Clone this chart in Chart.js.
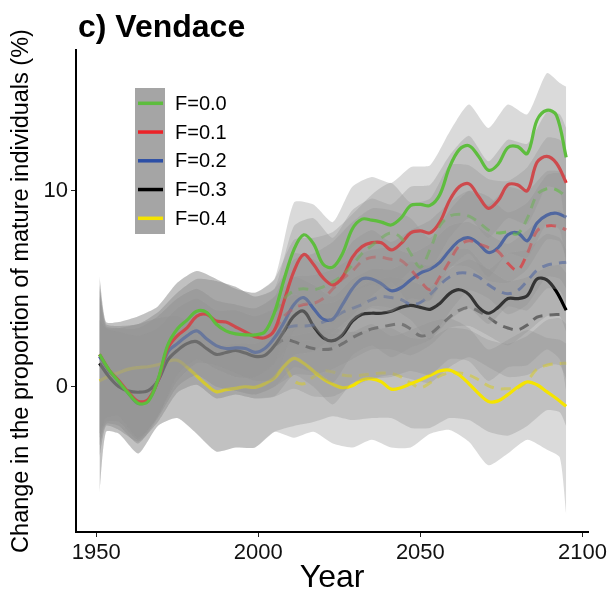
<!DOCTYPE html>
<html>
<head>
<meta charset="utf-8">
<script src="https://cdn.jsdelivr.net/npm/chart.js@4.4.1/dist/chart.umd.min.js"></script>
<style>
  html, body { margin: 0; padding: 0; background: #fff; }
  canvas { display: block; }
</style>
</head>
<body>
<canvas id="chart" width="610" height="603"></canvas>
<script>
// years for the solid lines, the dashed lines and the ribbons
const years = [1951,1954,1957,1960,1963,1966,1969,1972,1975,1978,1981,1984,1987,1990,1993,1996,1999,2002,2005,2008,2011,2014,2017,2020,2023,2026,2029,2032,2035,2038,2041,2044,2047,2050,2053,2056,2059,2062,2065,2068,2071,2074,2077,2080,2083,2086,2089,2092,2095];
const dashYears = [2005,2008,2011,2014,2017,2020,2023,2026,2029,2032,2035,2038,2041,2044,2047,2050,2053,2056,2059,2062,2065,2068,2071,2074,2077,2080,2083,2086,2089,2092,2095];
const ribbonYears = [1951,1953,1957,1963,1969,1975,1981,1987,1993,1999,2005,2011,2017,2023,2029,2035,2041,2047,2053,2059,2065,2071,2077,2083,2089,2093,2095];
const dashRibbonYears = [2005,2011,2017,2023,2029,2035,2041,2047,2053,2059,2065,2071,2077,2083,2089,2093,2095];

const labels = ['F=0.0', 'F=0.1', 'F=0.2', 'F=0.3', 'F=0.4'];
const lineColors = ['#5ebd3e', '#ec2227', '#2c4fa6', '#000000', '#f5e400'];

// solid lines
const f00 = [1.65,0.85,0.25,-0.35,-0.85,-0.75,0.35,2.1,2.95,3.4,3.85,3.8,3.2,2.85,2.7,2.65,2.65,2.8,3.8,5.5,7.0,7.75,7.3,6.25,6.1,6.8,8.05,8.55,8.5,8.4,8.25,8.6,9.25,9.3,9.25,9.8,11.2,12.1,12.3,11.75,11.05,11.35,12.2,12.25,11.9,13.6,14.1,13.85,11.7];
const f01 = [1.65,0.85,0.3,-0.3,-0.75,-0.65,0.3,1.95,2.6,3.0,3.6,3.7,3.35,3.3,3.05,2.8,2.55,2.5,2.9,4.4,5.9,6.75,6.25,5.55,5.2,5.6,6.6,7.15,7.35,7.35,6.98,7.3,7.85,7.95,7.85,8.4,9.5,10.2,10.35,9.7,9.1,9.5,10.3,10.3,10.0,11.45,11.75,11.4,10.4];
const f02 = [1.55,0.8,0.25,-0.35,-0.85,-0.7,0.3,1.75,2.2,2.6,2.85,2.45,2.1,1.95,1.98,1.95,1.75,1.95,2.5,3.3,4.2,4.55,4.0,3.45,3.45,4.2,5.0,5.5,5.5,5.25,4.9,5.05,5.45,5.8,6.0,6.35,6.95,7.45,7.6,7.3,6.85,7.1,7.75,7.85,7.45,8.35,8.75,8.85,8.65];
const f03 = [1.2,0.5,0.0,-0.22,-0.28,-0.2,0.3,1.35,1.85,2.2,2.3,1.95,1.65,1.75,1.85,1.72,1.55,1.6,2.1,2.85,3.6,3.85,3.1,2.5,2.35,2.65,3.35,3.7,3.75,3.75,3.85,4.05,4.15,4.05,3.95,4.25,4.75,4.95,4.7,4.05,3.75,4.05,4.5,4.5,4.65,5.5,5.45,4.85,3.9];
const f04 = [0.3,0.55,0.72,0.9,0.98,1.02,1.12,1.3,1.35,1.0,0.55,0.1,-0.25,-0.15,-0.08,0.0,-0.03,0.15,0.45,1.05,1.45,1.2,0.8,0.4,0.12,-0.05,0.05,0.35,0.4,0.25,-0.12,-0.05,0.15,0.35,0.58,0.8,0.85,0.6,0.15,-0.35,-0.75,-0.72,-0.4,-0.02,0.25,0.1,-0.25,-0.6,-1.0];

// dashed lines
const f00d = [3.8,4.5,4.9,5.0,4.95,5.1,5.35,5.7,6.2,6.8,7.2,7.6,7.85,7.6,6.8,6.1,7.0,8.2,8.7,8.8,8.7,8.4,8.0,7.85,7.9,7.8,8.6,9.8,10.1,10.05,9.7];
const f01d = [2.9,3.6,4.0,4.2,4.25,4.5,5.0,5.5,5.9,6.4,6.6,6.6,6.5,6.45,6.0,5.4,4.95,5.6,6.4,7.2,7.45,7.3,7.1,6.9,6.3,5.95,6.8,7.95,8.2,8.2,8.0];
const f02d = [2.5,2.95,3.1,3.1,3.15,3.3,3.5,3.8,4.0,4.2,4.45,4.6,4.55,4.45,4.2,4.3,4.7,5.2,5.6,5.8,5.78,5.6,5.2,4.9,4.75,4.9,5.4,5.95,6.2,6.3,6.35];
const f03d = [2.1,2.4,2.3,2.1,1.95,1.9,1.95,2.2,2.5,2.75,2.95,3.05,3.15,3.2,2.95,2.6,2.7,3.1,3.55,3.9,4.05,3.85,3.55,3.2,3.0,2.9,3.15,3.55,3.65,3.68,3.7];
const f04d = [0.45,1.0,0.3,0.15,0.5,0.8,0.75,0.6,0.55,0.6,0.65,0.7,0.68,0.5,0.2,-0.05,0.2,0.55,0.7,0.7,0.6,0.35,0.05,-0.1,-0.1,-0.08,0.3,0.9,1.1,1.18,1.2];

// ribbon bounds around the solid lines
const f00hi = [5.6,3.3,3.3,3.6,4.1,5.3,5.9,5.5,5.0,4.8,5.5,9.4,9.3,8.4,10.2,10.7,10.4,11.2,11.3,13.0,14.4,13.2,14.4,13.9,16.0,15.5,15.3];
const f00lo = [-2.4,-1.6,-1.5,-2.6,-1.5,0.6,1.4,0.9,0.5,0.5,1.2,4.0,4.2,3.2,4.8,5.2,5.0,5.9,6.0,7.6,8.6,7.6,8.6,8.3,10.2,10.0,7.6];
const f01hi = [5.2,3.2,3.1,3.2,3.8,4.8,5.5,5.4,5.1,4.6,5.0,8.2,8.6,7.6,9.0,9.6,9.3,10.2,10.3,11.8,12.8,11.5,12.6,12.4,14.0,13.9,13.2];
const f01lo = [-2.6,-1.8,-1.8,-2.7,-1.5,0.3,1.2,1.1,0.7,0.3,0.4,2.9,3.0,2.0,3.3,4.0,3.8,4.5,4.4,6.0,6.8,5.6,6.8,6.6,8.3,8.0,6.2];
const f02hi = [5.0,3.1,3.0,3.0,3.6,4.5,5.0,4.4,4.2,4.0,4.6,6.8,6.5,6.0,7.4,8.0,7.4,8.0,8.5,9.4,10.0,9.3,10.2,10.0,11.0,11.0,10.8];
const f02lo = [-3.0,-1.9,-2.0,-2.9,-1.6,0.0,0.6,0.0,-0.2,-0.4,0.0,1.0,0.7,0.2,1.6,2.1,1.5,2.0,2.4,3.4,4.0,3.2,4.1,3.9,5.0,4.9,4.2];
const f03hi = [4.6,3.0,2.8,2.6,3.0,4.0,4.5,3.9,3.9,3.6,4.0,5.6,5.2,4.6,5.5,6.0,6.0,6.4,6.2,7.0,7.0,6.0,6.8,7.0,7.8,7.6,7.0];
const f03lo = [-3.6,-2.0,-2.2,-2.8,-1.8,-0.3,0.1,-0.6,-0.4,-0.6,-0.5,0.6,0.0,-0.9,0.2,0.4,0.5,0.8,0.6,1.4,1.3,0.3,1.0,1.1,1.9,1.4,-0.2];
const f04hi = [3.4,3.0,3.0,3.2,3.5,3.6,3.0,2.1,2.2,2.2,2.6,3.8,3.2,2.7,2.8,3.2,2.6,2.9,3.3,3.5,3.0,1.9,2.4,2.9,2.5,2.4,2.2];
const f04lo = [-5.4,-2.3,-2.4,-3.4,-2.0,-1.6,-2.4,-3.3,-3.1,-3.1,-2.3,-2.6,-2.3,-2.9,-3.1,-2.7,-3.1,-3.1,-2.4,-2.2,-2.8,-4.0,-3.4,-2.7,-3.2,-3.6,-6.5];

// ribbon bounds around the dashed lines (same as the solid ones before 2005)
const f00dhi = [5.5,7.5,7.6,7.9,8.8,9.8,10.4,9.4,9.6,11.3,11.3,10.6,10.5,11.2,12.7,12.6,12.0];
const f00dlo = [1.2,2.3,2.4,2.8,3.6,4.6,5.3,4.2,4.4,6.1,6.1,5.4,5.3,6.0,7.5,7.4,6.5];
const f01dhi = [5.0,6.5,6.8,7.4,8.4,9.1,9.0,8.6,7.6,9.0,10.0,9.7,8.9,9.4,10.8,10.9,10.4];
const f01dlo = [0.4,1.6,1.8,2.5,3.4,4.1,4.0,3.4,2.4,3.8,4.9,4.5,3.7,4.2,5.6,5.5,5.0];
const f02dhi = [4.6,5.6,5.7,6.0,6.6,7.0,7.1,6.8,7.3,8.2,8.4,7.8,7.3,8.0,8.8,9.0,8.6];
const f02dlo = [0.0,0.6,0.6,0.9,1.4,1.9,1.9,1.6,2.1,3.0,3.1,2.6,2.1,2.8,3.6,3.6,2.8];
const f03dhi = [4.0,4.7,4.3,4.3,4.9,5.4,5.6,5.4,5.1,6.0,6.5,6.0,5.4,5.6,6.1,6.2,5.8];
const f03dlo = [-0.5,-0.1,-0.5,-0.5,0.0,0.4,0.6,0.4,0.2,1.0,1.5,1.0,0.5,0.6,1.1,1.1,0.4];
const f04dhi = [2.6,2.6,2.8,3.0,2.8,2.9,3.0,2.5,2.5,3.0,2.9,2.4,2.2,2.6,3.4,3.5,3.2];
const f04dlo = [-2.3,-2.0,-1.8,-1.5,-1.7,-1.6,-1.6,-2.1,-2.1,-1.6,-1.7,-2.3,-2.5,-2.0,-1.2,-1.3,-2.0];

const xTicks = [1950, 2000, 2050, 2100];
const yTicks = [0, 10];

(() => {
  'use strict'
  Chart.defaults.font.family = "'Liberation Sans', Arial, sans-serif";

  const pts = (xs, ys) => xs.map((x, i) => ({ x: x, y: ys[i] }));
  const fade = (hex, a) => {
    const n = parseInt(hex.slice(1), 16);
    return `rgba(${n >> 16}, ${(n >> 8) & 255}, ${n & 255}, ${a})`;
  };
  const ribbonFill = 'rgba(150, 150, 150, 0.35)';
  const nEarly = ribbonYears.indexOf(dashRibbonYears[0]);

  const groups = [
    { solid: f04, dashed: f04d, lo: f04lo, hi: f04hi, dlo: f04dlo, dhi: f04dhi, color: lineColors[4] },
    { solid: f03, dashed: f03d, lo: f03lo, hi: f03hi, dlo: f03dlo, dhi: f03dhi, color: lineColors[3] },
    { solid: f02, dashed: f02d, lo: f02lo, hi: f02hi, dlo: f02dlo, dhi: f02dhi, color: lineColors[2] },
    { solid: f01, dashed: f01d, lo: f01lo, hi: f01hi, dlo: f01dlo, dhi: f01dhi, color: lineColors[1] },
    { solid: f00, dashed: f00d, lo: f00lo, hi: f00hi, dlo: f00dlo, dhi: f00dhi, color: lineColors[0] }
  ];

  const datasets = [];
  const addRibbon = (loPts, hiPts) => {
    const loIdx = datasets.length;
    datasets.push({ data: loPts, borderWidth: 0, borderColor: 'transparent', pointRadius: 0, tension: 0.2, fill: false });
    datasets.push({ data: hiPts, borderWidth: 0, borderColor: 'transparent', backgroundColor: ribbonFill, pointRadius: 0, tension: 0.2, fill: { target: loIdx } });
  };

  // base layer: the dashed-scenario ribbons
  groups.forEach(g => {
    const early = ribbonYears.slice(0, nEarly);
    addRibbon(pts(early, g.lo.slice(0, nEarly)).concat(pts(dashRibbonYears, g.dlo)),
              pts(early, g.hi.slice(0, nEarly)).concat(pts(dashRibbonYears, g.dhi)));
  });
  // then, F=0.4 up to F=0.0: dashed line, ribbon, solid line
  groups.forEach(g => {
    datasets.push({ data: pts(dashYears, g.dashed), borderColor: fade(g.color, 0.6), borderWidth: 3, borderDash: [10, 7], pointRadius: 0, tension: 0.35, fill: false });
    addRibbon(pts(ribbonYears, g.lo), pts(ribbonYears, g.hi));
    datasets.push({ data: pts(years, g.solid), borderColor: g.color, borderWidth: 3.2, pointRadius: 0, tension: 0.35, fill: false });
  });
  datasets.forEach((d, i) => d.order = datasets.length - i);

  const titlePlugin = {
    id: 'panelTitle',
    afterDraw(chart) {
      const ctx = chart.ctx;
      ctx.save();
      ctx.font = "bold 32px 'Liberation Sans', Arial, sans-serif";
      ctx.fillStyle = '#000';
      ctx.textBaseline = 'alphabetic';
      ctx.fillText('c) Vendace', 78, 37);
      ctx.restore();
    }
  };

  const legendPlugin = {
    id: 'insetLegend',
    afterDraw(chart) {
      const ctx = chart.ctx;
      ctx.save();
      ctx.fillStyle = '#a5a5a5';
      ctx.fillRect(135, 88, 30, 146);
      ctx.font = "20px 'Liberation Sans', Arial, sans-serif";
      ctx.textBaseline = 'middle';
      labels.forEach((lab, i) => {
        const y = 103.3 + i * 28.75;
        ctx.strokeStyle = lineColors[i];
        ctx.lineWidth = 3.5;
        ctx.beginPath();
        ctx.moveTo(138, y);
        ctx.lineTo(163, y);
        ctx.stroke();
        ctx.fillStyle = '#000';
        ctx.fillText(lab, 175, y + 1);
      });
      ctx.restore();
    }
  };

  new Chart(document.getElementById('chart').getContext('2d'), {
    type: 'line',
    data: { datasets: datasets },
    plugins: [titlePlugin, legendPlugin],
    options: {
      responsive: false,
      animation: false,
      events: [],
      layout: { padding: { left: 0, top: 50, right: 11, bottom: 0 } },
      plugins: { legend: { display: false }, tooltip: { enabled: false } },
      scales: {
        x: {
          type: 'linear', min: 1943.75, max: 2101.8,
          afterBuildTicks: s => { s.ticks = xTicks.map(v => ({ value: v })); },
          afterFit: s => { s.height = 71; },
          ticks: { color: '#111', font: { size: 22 }, padding: 3, callback: v => String(v) },
          grid: { display: true, drawOnChartArea: false, drawTicks: true, tickLength: 5, color: '#222', lineWidth: 1 },
          border: { display: true, color: '#000', width: 2 },
          title: { display: true, text: 'Year', color: '#000', font: { size: 32 }, padding: { top: 0, bottom: 6 } }
        },
        y: {
          type: 'linear', min: -7.41, max: 17.18,
          afterBuildTicks: s => { s.ticks = yTicks.map(v => ({ value: v })); },
          afterFit: s => { s.width = 76; },
          ticks: { color: '#111', font: { size: 22 }, padding: 3, callback: v => String(v) },
          grid: { display: true, drawOnChartArea: false, drawTicks: true, tickLength: 5, color: '#222', lineWidth: 1 },
          border: { display: true, color: '#000', width: 2 },
          title: { display: true, text: 'Change in the proportion of mature individuals (%)', color: '#000', font: { size: 23.5 }, padding: { top: 7, bottom: 0 } }
        }
      }
    }
  });
})();
</script>
</body>
</html>
